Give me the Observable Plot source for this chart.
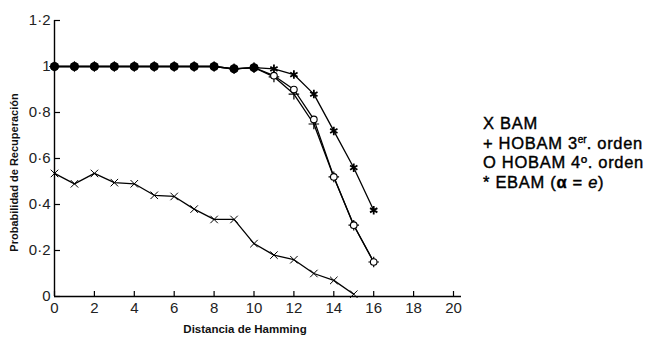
<!DOCTYPE html>
<html><head><meta charset="utf-8">
<script src="https://cdn.jsdelivr.net/npm/d3@7"></script>
<script src="https://cdn.jsdelivr.net/npm/@observablehq/plot@0.6"></script>
<style>
body{margin:0;background:#fff;}
#wrap{position:relative;width:669px;height:339px;}
#legend{position:absolute;left:483px;top:114px;font-family:"Liberation Sans",Arial,sans-serif;font-size:16.5px;line-height:19.5px;letter-spacing:0.7px;color:#000;-webkit-text-stroke:0.4px #000;}
#legend div{height:19.5px;}
#legend sup{font-size:10px;line-height:0;vertical-align:6px;letter-spacing:0;}
</style>
</head><body>
<div id="wrap"><div id="legend">
<div>X BAM</div>
<div>+ HOBAM 3<sup>er</sup>. orden</div>
<div>O HOBAM 4º. orden</div>
<div>* EBAM (<b>α</b> = <i>e</i>)</div>
</div></div>
<script>
const hamming = [0,1,2,3,4,5,6,7,8,9,10,11,12,13,14,15,16];
const bam    = [0.535,0.49,0.535,0.495,0.49,0.44,0.435,0.38,0.335,0.335,0.23,0.18,0.16,0.10,0.07,0.01];
const hobam3 = [1,1,1,1,1,1,1,1,1,0.99,0.995,0.955,0.88,0.75,0.52,0.31,0.15];
const hobam4 = [1,1,1,1,1,1,1,1,1,0.99,0.995,0.96,0.90,0.77,0.52,0.31,0.15];
const ebam   = [1,1,1,1,1,1,1,1,1,0.99,0.995,0.99,0.965,0.88,0.72,0.56,0.375];
const xTicks = [0,2,4,6,8,10,12,14,16,18,20];
const yTicks = [0,0.2,0.4,0.6,0.8,1,1.2];
const yTickLabels = ["0","0·2","0·4","0·6","0·8","1","1·2"];
const xLabel = "Distancia de Hamming";
const yLabel = "Probabilidad de Recuperación";

const toRows = (arr) => arr.map((v,i)=>({x: hamming[i], y: v}));
const rBam = toRows(bam), rH3 = toRows(hobam3), rH4 = toRows(hobam4), rE = toRows(ebam);
const shared = hamming.filter((h,i)=> i < ebam.length && Math.max(hobam3[i],hobam4[i],ebam[i]) - Math.min(hobam3[i],hobam4[i],ebam[i]) < 0.001)
  .map(h => ({x: h, y: ebam[h]}));

const W = 669, H = 339, mL = 54, mR = 216, mT = 20, mB = 43;
const frameW = W - mL - mR, frameH = H - mT - mB;
const line = (data) => Plot.line(data, {x:"x", y:"y", stroke:"#000", strokeWidth:1.3});
const chart = Plot.plot({
  width: W, height: H,
  marginLeft: mL, marginRight: mR, marginTop: mT, marginBottom: mB,
  style: {fontFamily: "'Liberation Sans', Arial, sans-serif", fontSize: "15px", color: "#222", background: "#fff"},
  x: {domain: [0, 20]},
  y: {domain: [0, 1.2]},
  marks: [
    Plot.ruleX([0], {stroke:"#000", strokeWidth:1.4}),
    Plot.ruleY([0], {stroke:"#000", strokeWidth:1.4, x2: 20.4}),
    Plot.tickX(xTicks, {x: d=>d, insetTop: frameH - 5, stroke:"#000", strokeWidth:1.2}),
    Plot.tickY(yTicks, {y: d=>d, insetRight: frameW - 6, stroke:"#000", strokeWidth:1.2}),
    Plot.axisX(xTicks, {tickSize: 0, tickPadding: 6, label: null, fontSize: 15}),
    Plot.axisY(yTicks, {tickSize: 0, tickPadding: 4, label: null, tickFormat: (d)=>yTickLabels[yTicks.indexOf(d)], fontSize: 15}),
    Plot.text([xLabel], {frameAnchor:"bottom", textAnchor:"middle", dy: 36, dx: -9, text: d=>d, fontWeight:"bold", fontSize: 11.5, letterSpacing: "0.45px", fill:"#111"}),
    Plot.text([yLabel], {frameAnchor:"left", textAnchor:"middle", dx: -40, dy: 14, rotate: -90, text: d=>d, fontWeight:"bold", fontSize: 11, letterSpacing: "0.55px", fill:"#111"}),
    line(rBam), line(rH3), line(rH4), line(rE),
    Plot.dot(rBam, {x:"x", y:"y", symbol:"times", r:3.5, stroke:"#000", strokeWidth:1}),
    Plot.dot(rH3, {x:"x", y:"y", symbol:"plus", r:3.5, stroke:"#000", strokeWidth:1.2}),
    Plot.dot(rH4, {x:"x", y:"y", symbol:"circle", r:3.3, stroke:"#000", fill:"#fff", strokeWidth:1.1}),
    Plot.dot(rE, {x:"x", y:"y", symbol:"asterisk", r:4, stroke:"#000", strokeWidth:1.8}),
    Plot.dot(shared, {x:"x", y:"y", r:4.5, fill:"#000"})
  ]
});
document.getElementById("wrap").prepend(chart);
</script>
</body></html>
